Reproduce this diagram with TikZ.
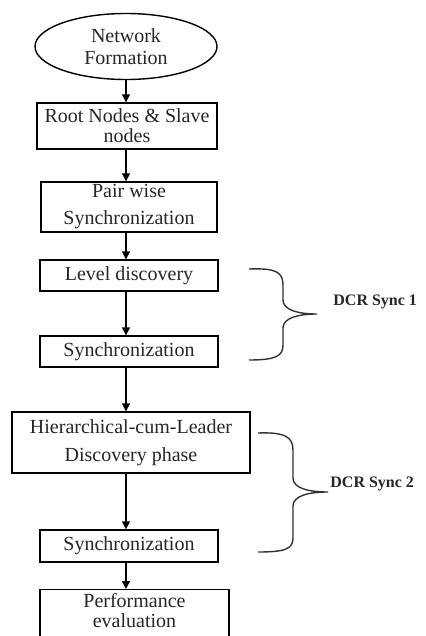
\documentclass[tikz,border=0pt]{standalone}
\usepackage{fontspec}
\setmainfont{Liberation Serif}
\usetikzlibrary{arrows.meta,shapes.geometric}
\begin{document}
\begin{tikzpicture}[x=0.5pt,y=-0.5pt,
  box/.style={draw=black, line width=0.7pt, rectangle, inner sep=0pt, align=center, text=black!85, font=\fontsize{10pt}{12pt}\selectfont},
  oval/.style={box, ellipse},
  flow/.style={draw=black, line width=0.7pt, -{Triangle[length=4pt,width=4pt]}},
  brace/.style={draw=black!80, line width=0.7pt},
  tag/.style={font=\bfseries\fontsize{8pt}{10pt}\selectfont, text=black!85, anchor=west, inner sep=0pt}]
\useasboundingbox (0,0) rectangle (425,636);
\path[clip] (0,0) rectangle (425,636);
\coordinate (col) at (126,0);
\node[oval, minimum width=91pt, minimum height=33pt] (net) at (126,46.5) {Network\\[-1pt]Formation};
\node[box, minimum width=90pt, minimum height=23pt] (root) at (127,126) {Root Nodes \& Slave\\[-2pt]nodes};
\node[box, minimum width=88pt, minimum height=25pt] (pair) at (129,207) {Pair wise\\[1.5pt]Synchronization};
\node[box, minimum width=89pt, minimum height=15.5pt] (level) at (129,275.5) {Level discovery};
\node[box, minimum width=89pt, minimum height=15.5pt] (sync1) at (129,351.5) {Synchronization};
\node[box, minimum width=119pt, minimum height=30.5pt] (hier) at (131,442.5) {Hierarchical-cum-Leader\\[2pt]Discovery phase};
\node[box, minimum width=89pt, minimum height=16pt] (sync2) at (129,546) {Synchronization};
\node[box, minimum width=94.5pt, minimum height=40pt, anchor=north] (perf) at (134.5,589) {};
\node[box, draw=none, anchor=north] (perftext) at ([yshift=-2pt]perf.north) {Performance\\[-2pt]evaluation};
\draw[flow] (net.south) -- (col |- root.north);
\draw[flow] (col |- root.south) -- (col |- pair.north);
\draw[flow] (col |- pair.south) -- (col |- level.north);
\draw[flow] (col |- level.south) -- (col |- sync1.north);
\draw[flow] (col |- sync1.south) -- (col |- hier.north);
\draw[flow] (col |- hier.south) -- (col |- sync2.north);
\draw[flow] (col |- sync2.south) -- (col |- perf.north);
\draw[brace] (249,269) .. controls (276,268) and (283,272) .. (283,285) -- (283,300) .. controls (283,310) and (298,314) .. (317,314) .. controls (298,314) and (283,318) .. (283,328) -- (283,345) .. controls (283,356) and (276,360) .. (249,360);
\draw[brace] (258,433) .. controls (285,432) and (293,437) .. (293,450) -- (293,478) .. controls (293,488) and (308,492) .. (328,492) .. controls (308,492) and (293,496) .. (293,506) -- (293,538) .. controls (293,549) and (285,552) .. (258,552);
\node[tag] (dcr1) at (333,302) {DCR Sync 1};
\node[tag] (dcr2) at (330,484) {DCR Sync 2};
\end{tikzpicture}
\end{document}
